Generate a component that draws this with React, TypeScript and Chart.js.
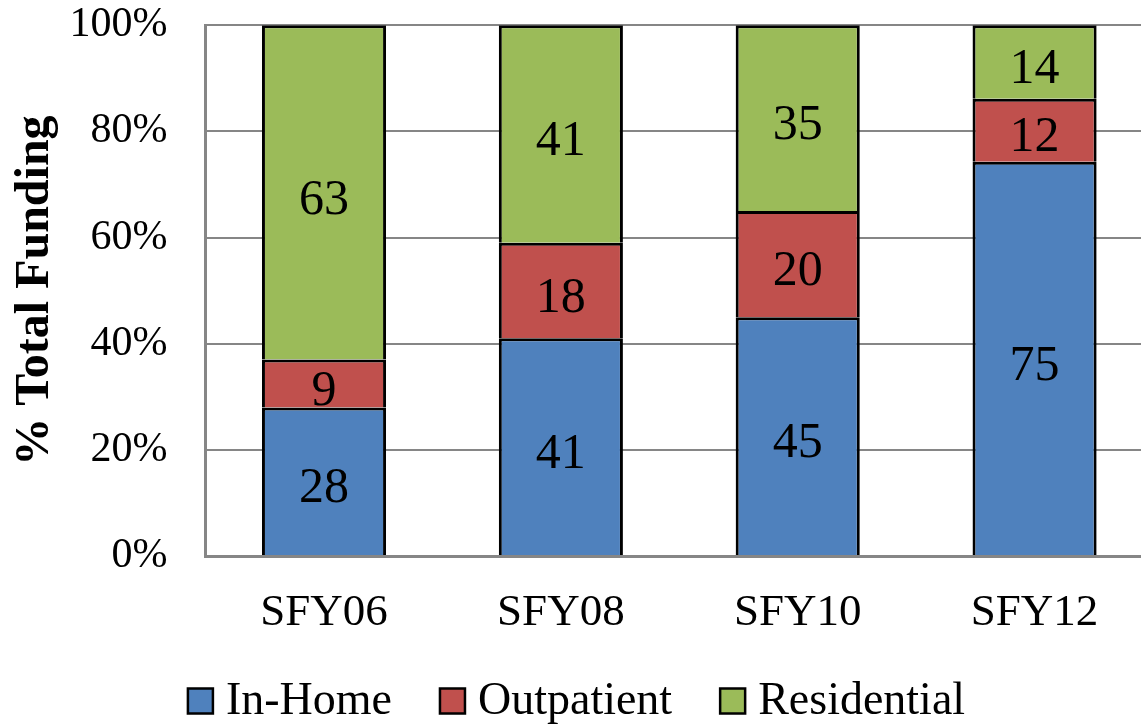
import React, { useEffect, useRef } from "react";
import { Chart, registerables } from "chart.js";

Chart.register(...registerables);

const categories = ["SFY06", "SFY08", "SFY10", "SFY12"];
const inHome = [28, 41, 45, 75];
const outpatient = [9, 18, 20, 12];
const residential = [63, 41, 35, 14];
const seriesNames = ["In-Home", "Outpatient", "Residential"];
const seriesColors = ["#4F81BD", "#C0504D", "#9BBB59"];
const yTickValues = [0, 20, 40, 60, 80, 100];
const yTitle = "% Total Funding";

const FONT = '"Liberation Serif", "Times New Roman", serif';

const seriesValues = [inHome, outpatient, residential];
const totals = categories.map((_, i) => seriesValues.reduce((s, arr) => s + arr[i], 0));
const toPercent = (arr: number[]) => arr.map((v, i) => (v / totals[i]) * 100);

const dataLabelPlugin = {
  id: "dataLabels",
  afterDatasetsDraw(chart: any) {
    const ctx = chart.ctx;
    ctx.save();
    ctx.font = `50px ${FONT}`;
    ctx.fillStyle = "#000";
    ctx.textAlign = "center";
    ctx.textBaseline = "middle";
    chart.data.datasets.forEach((ds: any, di: number) => {
      const meta = chart.getDatasetMeta(di);
      meta.data.forEach((el: any, i: number) => {
        const p = el.getProps(["x", "y", "base"], true);
        const raw = seriesValues[di][i];
        ctx.fillText(String(raw), p.x, (p.y + p.base) / 2 + 8);
      });
    });
    ctx.restore();
  },
};

const legendPlugin = {
  id: "customLegend",
  afterDraw(chart: any) {
    const ctx = chart.ctx;
    ctx.save();
    ctx.font = `46px ${FONT}`;
    const box = 25;
    const gap = 13;
    const itemGap = 48;
    const widths = seriesNames.map((n) => box + gap + ctx.measureText(n).width);
    const total = widths.reduce((a, b) => a + b, 0) + itemGap * (seriesNames.length - 1);
    let x = chart.width / 2 - total / 2;
    const cy = chart.height - 24;
    seriesNames.forEach((n, i) => {
      ctx.fillStyle = seriesColors[i];
      ctx.fillRect(x, cy - box / 2, box, box);
      ctx.strokeStyle = "#000";
      ctx.lineWidth = 2.5;
      ctx.strokeRect(x, cy - box / 2, box, box);
      ctx.fillStyle = "#000";
      ctx.textAlign = "left";
      ctx.textBaseline = "middle";
      ctx.fillText(n, x + box + gap, cy + 1);
      x += widths[i] + itemGap;
    });
    ctx.restore();
  },
};

export default function App() {
  const ref = useRef<HTMLCanvasElement | null>(null);

  useEffect(() => {
    document.body.style.margin = "0";
    document.body.style.overflow = "hidden";
    document.documentElement.style.overflow = "hidden";
    if (!ref.current) return;
    const chart = new Chart(ref.current, {
      type: "bar",
      data: {
        labels: categories,
        datasets: seriesNames.map((name, i) => ({
          label: name,
          data: toPercent(seriesValues[i]),
          backgroundColor: seriesColors[i],
          borderColor: "#000",
          borderWidth: 3,
          categoryPercentage: 1,
          barPercentage: 0.524,
        })),
      },
      options: {
        responsive: false,
        animation: false,
        devicePixelRatio: 1,
        layout: { padding: { top: 25, right: 0, bottom: 55, left: 0 } },
        plugins: {
          legend: { display: false },
          tooltip: { enabled: false },
        },
        scales: {
          x: {
            stacked: true,
            grid: { display: false, drawTicks: false },
            border: { display: true, color: "#868686", width: 3 },
            ticks: {
              color: "#000",
              font: { family: FONT, size: 45 },
              padding: 30,
            },
          },
          y: {
            stacked: true,
            min: 0,
            max: 100,
            afterBuildTicks: (axis: any) => {
              axis.ticks = yTickValues.map((v) => ({ value: v }));
            },
            grid: {
              color: "#868686",
              lineWidth: 2,
              drawTicks: true,
              tickLength: 38,
              tickColor: "rgba(0,0,0,0)",
            },
            border: { display: true, color: "#868686", width: 3 },
            ticks: {
              color: "#000",
              font: { family: FONT, size: 42 },
              padding: 0,
              callback: (v: any) => `${v}%`,
            },
            title: {
              display: true,
              text: yTitle,
              color: "#000",
              font: { family: FONT, size: 48, weight: "bold" },
              padding: { top: 7, bottom: 5 },
            },
          },
        },
      },
      plugins: [dataLabelPlugin, legendPlugin],
    });
    return () => chart.destroy();
  }, []);

  return (
    <div style={{ width: 1141, height: 725, overflow: "hidden" }}>
      <canvas ref={ref} width={1153} height={725} style={{ display: "block" }} />
    </div>
  );
}
